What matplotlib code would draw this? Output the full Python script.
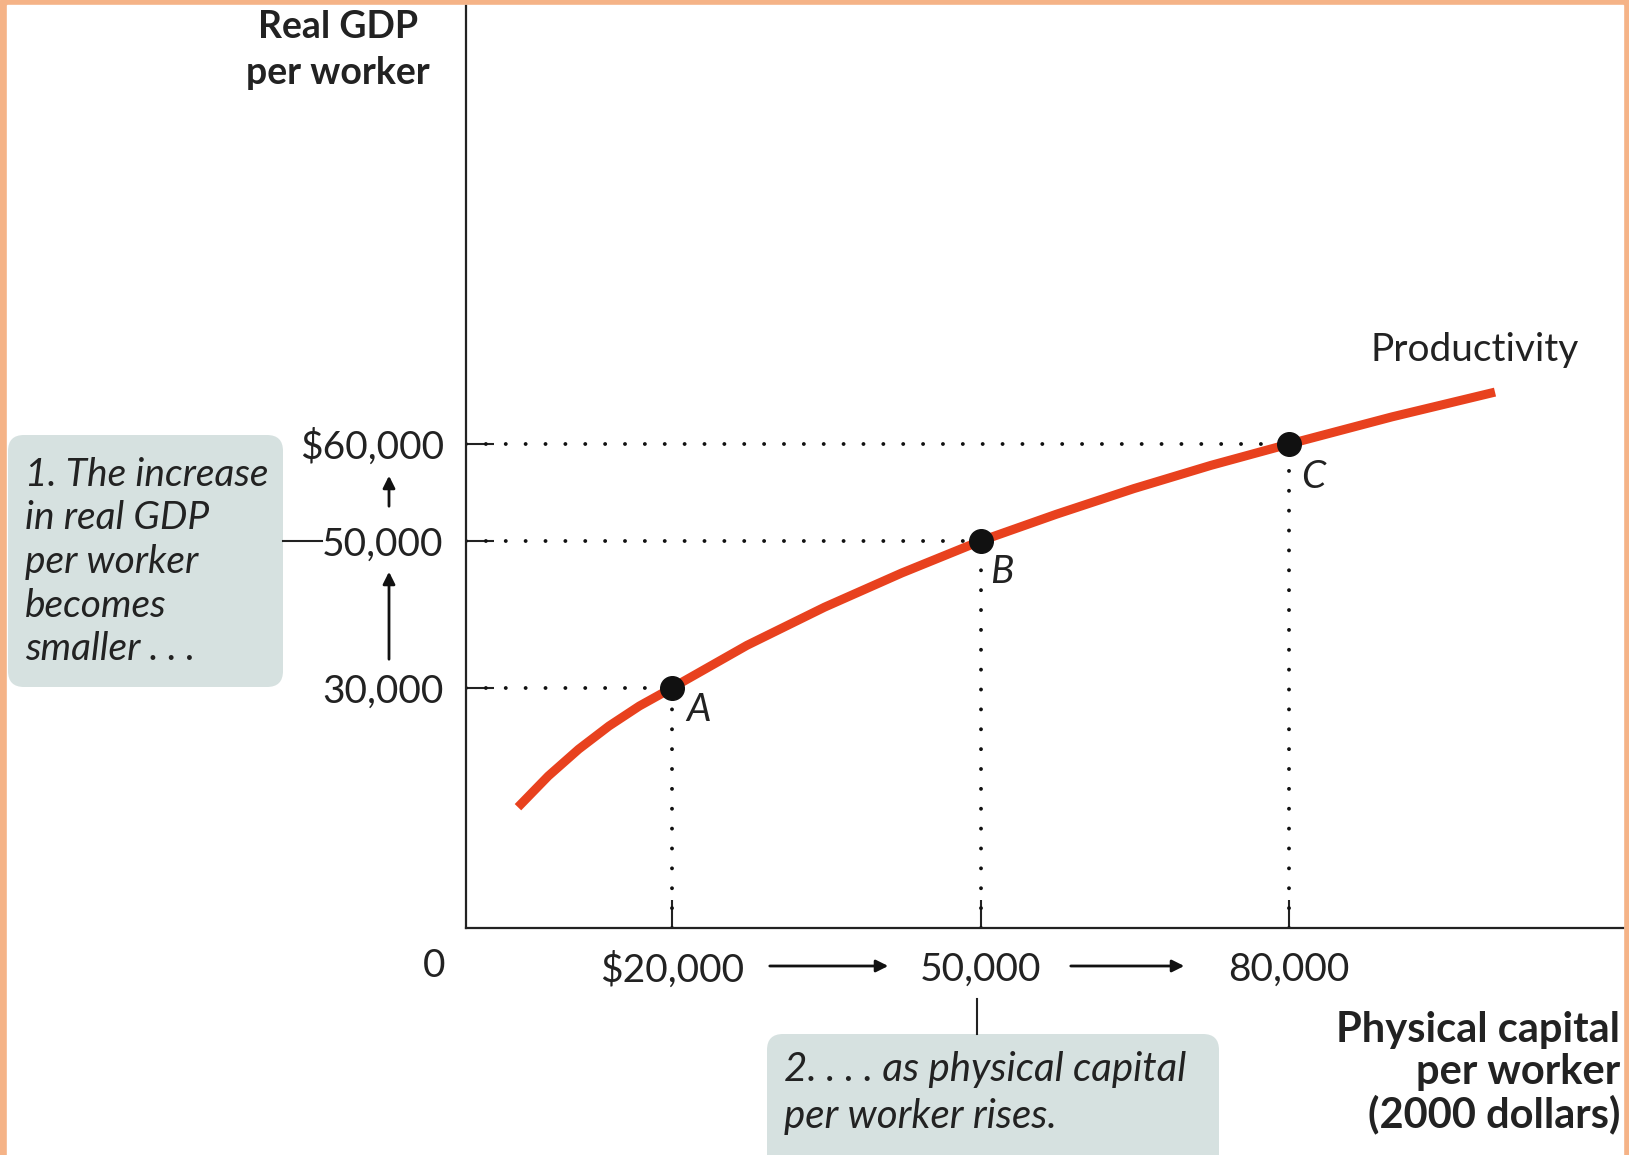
import matplotlib
matplotlib.use('Agg')
import matplotlib.pyplot as plt
from matplotlib.patches import FancyBboxPatch, Rectangle
import numpy as np

plt.rcParams['font.family'] = ['Lato', 'DejaVu Sans']

# データ
capital = [5050, 8000, 10950, 13900, 16850, 20000, 27300, 34850, 42350, 50000,
           57350, 64900, 72400, 80000, 90000, 100000]
gdp = [15100, 19000, 22350, 25250, 27750, 30000, 35800, 41000, 45650, 50000,
       52750, 55400, 57800, 60000, 62800, 65350]
point_names = ['A', 'B', 'C']
point_x = [20000, 50000, 80000]
point_y = [30000, 50000, 60000]
x_tick_labels = ['$20,000', '50,000', '80,000']
y_tick_labels = ['30,000', '50,000', '$60,000']

W, H = 1629, 1155
RED = '#E8411E'
BOX = '#D6E1E0'
BORDER = '#F5B387'
INK = '#222222'

# 縦軸は等間隔ではないので区分線形スケール
y_vals = [0, 30000, 50000, 60000, 110000]
y_pos = [0, 240, 387, 484, 969]


def fwd(v):
    return np.interp(v, y_vals, y_pos)


def inv(p):
    return np.interp(p, y_pos, y_vals)


fig = plt.figure(figsize=(W / 100, H / 100), dpi=100)

# 背景と枠（ピクセル座標のオーバーレイ）
bg = fig.add_axes([0, 0, 1, 1])
bg.set_xlim(0, W)
bg.set_ylim(H, 0)
bg.axis('off')
bg.add_patch(Rectangle((0, 0), W, H, color=BORDER, zorder=0))
bg.add_patch(Rectangle((7, 5), 1616, H, color='white', zorder=1))

# グラフ本体
ax0, ay0, ax1, ay1 = 466, 928, 1623, 6
ax = fig.add_axes([ax0 / W, 1 - ay0 / H, (ax1 - ax0) / W, (ay0 - ay1) / H])
ax.patch.set_alpha(0)
ax.set_yscale('function', functions=(fwd, inv))
ax.set_xlim(0, (ax1 - ax0) / 10.29 * 1000)
ax.set_ylim(0, inv(ay0 - ay1))
for s in ['top', 'right']:
    ax.spines[s].set_visible(False)
for s in ['left', 'bottom']:
    ax.spines[s].set_linewidth(1.6)
    ax.spines[s].set_color(INK)

ax.set_xticks(point_x)
ax.set_xticklabels(x_tick_labels)
ax.set_yticks(sorted(point_y))
ax.set_yticklabels(y_tick_labels)
ax.tick_params(axis='both', direction='in', length=20, width=1.5, color=INK,
               labelsize=28, labelcolor=INK)
ax.tick_params(axis='x', pad=17)
ax.tick_params(axis='y', pad=16)
ax.minorticks_off()

# 点線
dots = dict(color='#111111', lw=2.8, linestyle=(0, (0.01, 5.1)), dash_capstyle='round', zorder=2)
for px, py in zip(point_x, point_y):
    ax.plot([0, px], [py, py], **dots)
    ax.plot([px, px], [0, py], **dots)

# 生産性曲線
ax.plot(capital, gdp, color=RED, lw=6.5, solid_capstyle='butt', solid_joinstyle='round', zorder=3)
ax.plot(point_x, point_y, 'o', color='#111111', markersize=17, zorder=4)
label_offsets = [(19, -16), (15, -22), (17, -24)]
for name, px, py, off in zip(point_names, point_x, point_y, label_offsets):
    ax.annotate(name, (px, py), xytext=off, textcoords='offset points',
                fontsize=28, style='italic', color=INK, va='center', ha='center')
bg.text(1475, 350, 'Productivity', ha='center', va='center', fontsize=28, color=INK, zorder=5)

# 軸ラベル
bg.text(338, 50, 'Real GDP\nper worker', ha='center', va='center', fontsize=27,
        fontweight='bold', color=INK, linespacing=1.42, zorder=5)
bg.text(1620, 1073, 'Physical capital\nper worker\n(2000 dollars)', ha='right', va='center',
        fontsize=30, fontweight='bold', color=INK, linespacing=1.12, zorder=5)
bg.text(434, 966, '0', ha='center', va='center', fontsize=28, color=INK, zorder=5)

# 矢印
arr = dict(arrowstyle='-|>', color='#111111', lw=2, mutation_scale=18)
bg.annotate('', xy=(891, 966), xytext=(767, 966), arrowprops=arr, zorder=5)
bg.annotate('', xy=(1187, 966), xytext=(1068, 966), arrowprops=arr, zorder=5)
bg.annotate('', xy=(389, 569), xytext=(389, 662), arrowprops=arr, zorder=5)
bg.annotate('', xy=(389, 473), xytext=(389, 509), arrowprops=arr, zorder=5)

# 注釈ボックス
bg.add_patch(FancyBboxPatch((8, 435), 275, 252, boxstyle='round,pad=0,rounding_size=16',
                            fc=BOX, ec='none', zorder=2))
bg.text(25, 562, '1. The increase\nin real GDP\nper worker\nbecomes\nsmaller . . .', ha='left',
        va='center', fontsize=28, style='italic', color=INK, linespacing=1.26, zorder=5)
bg.plot([283, 322], [541, 541], color=INK, lw=1.5, zorder=5)

bg.add_patch(FancyBboxPatch((767, 1034), 452, 140, boxstyle='round,pad=0,rounding_size=16',
                            fc=BOX, ec='none', zorder=2))
bg.text(784, 1093, '2. . . . as physical capital\nper worker rises.', ha='left', va='center',
        fontsize=29, style='italic', color=INK, linespacing=1.32, zorder=5)
bg.plot([977, 977], [999, 1034], color=INK, lw=1.5, zorder=5)

fig.savefig('out.png', dpi=100)
plt.close(fig)
